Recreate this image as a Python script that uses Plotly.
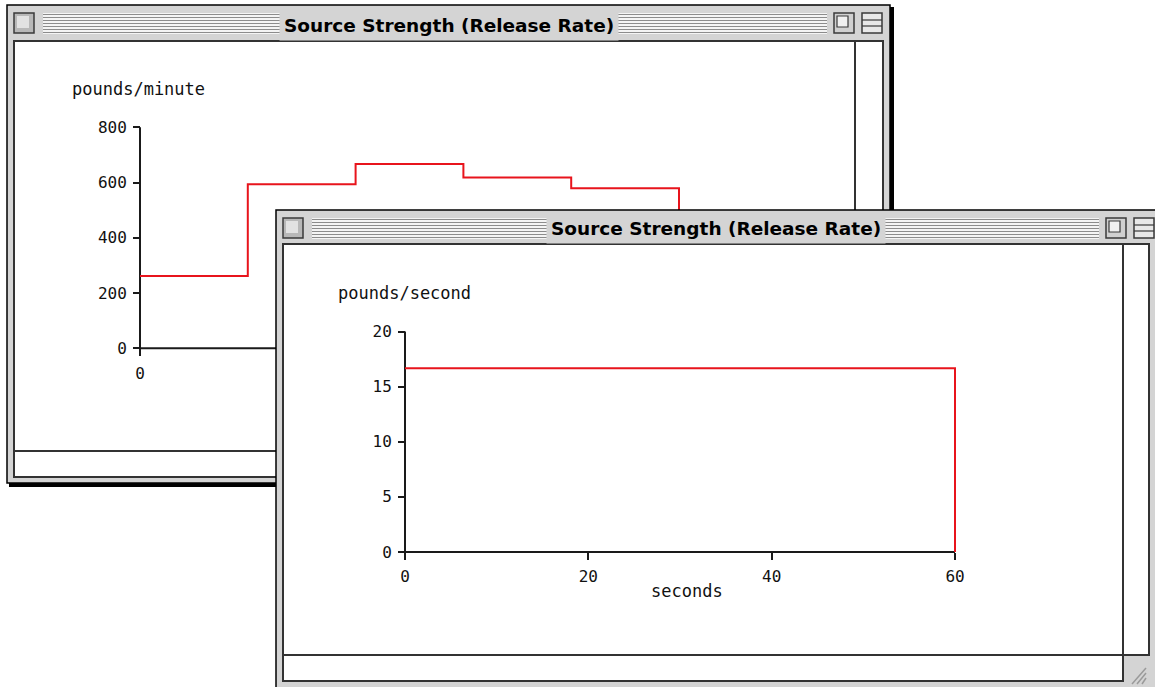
import plotly.graph_objects as go

W, H = 1155, 687

# ---------------- data ----------------
back_time = [0, 1, 2, 3, 4, 5]                 # step boundaries
back_rate = [262, 594, 667, 618, 579, 0]       # pounds/minute
back_yticks = [0, 200, 400, 600, 800]
back_xticks = [0, 2, 4, 6]

front_time = [0, 60]                           # seconds
front_rate = [16.67, 0]                        # pounds/second
front_yticks = [0, 5, 10, 15, 20]
front_xticks = [0, 20, 40, 60]

window_title = "Source Strength (Release Rate)"
back_ylabel = "pounds/minute"
front_ylabel = "pounds/second"
front_xlabel = "seconds"

RED = "#e8141c"
AX = "#1a1a1a"
GRAY = "#d4d4d4"
MONO = "DejaVu Sans Mono"


def fx(x):
    return x / W


def fy(y):
    return 1 - y / H


shapes = []


def rect(x0, y0, x1, y1, fill=None, line=None, lw=0, layer="below"):
    d = dict(type="rect", xref="paper", yref="paper",
             x0=fx(x0), x1=fx(x1), y0=fy(y1), y1=fy(y0), layer=layer,
             line=dict(width=lw, color=line or "rgba(0,0,0,0)"))
    d["fillcolor"] = fill if fill else "rgba(0,0,0,0)"
    shapes.append(d)


def seg(x0, y0, x1, y1, color, lw, layer):
    shapes.append(dict(type="line", xref="paper", yref="paper",
                       x0=fx(x0), x1=fx(x1), y0=fy(y0), y1=fy(y1),
                       layer=layer, line=dict(color=color, width=lw)))


def window(L, T, R, B, cL, cT, cR, cB, vscroll, hscroll, layer, shadow):
    if shadow:
        rect(R, T + 2, R + 4, B + 4, fill="#000", layer=layer)
        rect(L + 2, B, R + 4, B + 4, fill="#000", layer=layer)
    # gray frame strips
    rect(L, T, R, cT, fill=GRAY, layer=layer)
    rect(L, cT, cL, cB, fill=GRAY, layer=layer)
    rect(cR, cT, R, cB, fill=GRAY, layer=layer)
    rect(L, cB, R, B, fill=GRAY, layer=layer)
    # outer border
    rect(L, T, R, B, line="#000", lw=1.5, layer=layer)
    # content border
    rect(cL, cT, cR, cB, line="#333", lw=2, layer=layer)
    # scroll lines
    seg(vscroll, cT, vscroll, cB, "#333", 2, layer)
    seg(cL, hscroll, cR, hscroll, "#333", 2, layer)
    # title bar stripes
    bx1 = R - 56
    sx0, sx1 = L + 36, bx1 - 7
    rect(sx0, T + 8, sx1, T + 29, fill="#f4f4f4", layer=layer)
    for i in range(7):
        yy = T + 9.5 + 3 * i
        seg(sx0, yy, sx1, yy, "#8c8c8c", 1.2, layer)
    # close box
    rect(L + 7, T + 8, L + 27, T + 28, fill="#b8b8b8", line="#3a3a3a", lw=1.5, layer=layer)
    rect(L + 10, T + 11, L + 22, T + 23, fill="#e2e2e2", layer=layer)
    # zoom box
    rect(bx1, T + 8, bx1 + 20, T + 28, fill="#d0d0d0", line="#3a3a3a", lw=1.5, layer=layer)
    rect(bx1 + 3, T + 11, bx1 + 14, T + 22, fill="#f0f0f0", line="#3a3a3a", lw=1.2, layer=layer)
    # collapse box
    bx2 = R - 28
    rect(bx2, T + 8, bx2 + 20, T + 28, fill="#e8e8e8", line="#3a3a3a", lw=1.5, layer=layer)
    seg(bx2, T + 15, bx2 + 20, T + 15, "#3a3a3a", 1.2, layer)
    seg(bx2, T + 21, bx2 + 20, T + 21, "#3a3a3a", 1.2, layer)


# back window (below everything of the front subplot)
window(7, 5, 890, 483, 14, 41, 883, 477, 855, 451, "below", True)
# front window (chrome above)
window(276, 210, 1162, 702, 283, 244, 1149, 681, 1123, 655, "above", False)
# grow box corner of front window
rect(1124, 656, 1162, 702, fill=GRAY, layer="above")
for k in range(3):
    seg(1132 + 5 * k, 684, 1146, 668 + 5 * k, "#9a9a9a", 1.5, "above")

# ---------------- axis geometry (pixel calibration) ----------------
bx0, bxk = 140.0, 107.8
by0, byk = 348.3, (348.3 - 127.3) / 800
fx0, fxk = 405.0, (955 - 405) / 60
fy0, fyk = 552.0, (552 - 331.5) / 20

fig = go.Figure()

fig.add_trace(go.Scatter(x=back_time, y=back_rate, mode="lines", line_shape="hv",
                         line=dict(color=RED, width=2), xaxis="x", yaxis="y",
                         hoverinfo="skip", showlegend=False))
fig.add_trace(go.Scatter(x=front_time, y=front_rate, mode="lines", line_shape="hv",
                         line=dict(color=RED, width=2), xaxis="x2", yaxis="y2",
                         hoverinfo="skip", showlegend=False))

# axis lines as shapes (only over the tick span)
shapes.append(dict(type="line", xref="x", yref="y", x0=back_xticks[0], x1=back_xticks[-1],
                   y0=0, y1=0, layer="between", line=dict(color=AX, width=2)))
shapes.append(dict(type="line", xref="x", yref="y", x0=0, x1=0,
                   y0=back_yticks[0], y1=back_yticks[-1], layer="between", line=dict(color=AX, width=2)))
shapes.append(dict(type="line", xref="x2", yref="y2", x0=front_xticks[0], x1=front_xticks[-1],
                   y0=0, y1=0, layer="between", line=dict(color=AX, width=2)))
shapes.append(dict(type="line", xref="x2", yref="y2", x0=0, x1=0,
                   y0=front_yticks[0], y1=front_yticks[-1], layer="between", line=dict(color=AX, width=2)))

tickfont = dict(family=MONO, size=16, color="#111")
common = dict(showgrid=False, zeroline=False, showline=False, ticks="outside",
              ticklen=7, tickwidth=2, tickcolor=AX, tickfont=tickfont,
              fixedrange=True, anchor="free", ticklabelstandoff=3)

fig.update_layout(
    width=W, height=H, template="none",
    margin=dict(l=0, r=0, t=0, b=0),
    paper_bgcolor="white", plot_bgcolor="white",
    showlegend=False,
    xaxis=dict(domain=[fx(15), fx(855)], range=[(15 - bx0) / bxk, (855 - bx0) / bxk],
               tickvals=back_xticks, position=fy(by0), **common),
    yaxis=dict(domain=[fy(451), fy(42)], range=[(by0 - 451) / byk, (by0 - 42) / byk],
               tickvals=back_yticks, position=fx(bx0), **common),
    xaxis2=dict(domain=[fx(276), 1], range=[(276 - fx0) / fxk, (W - fx0) / fxk],
                tickvals=front_xticks, position=fy(fy0), **common),
    yaxis2=dict(domain=[0, fy(210)], range=[(fy0 - H) / fyk, (fy0 - 210) / fyk],
                tickvals=front_yticks, position=fx(fx0), **common),
    shapes=shapes,
)

ann_font = dict(family=MONO, size=17, color="#111")
title_font = dict(family="DejaVu Sans", size=18.5, color="#000")
for cx, cy in [(448.5, 25), (716, 229)]:
    fig.add_annotation(x=fx(cx), y=fy(cy), xref="paper", yref="paper",
                       xanchor="center", yanchor="middle",
                       text="<b>" + window_title + "</b>", showarrow=False,
                       font=title_font, bgcolor=GRAY, borderpad=4)
fig.add_annotation(x=fx(70), y=fy(89), xref="paper", yref="paper", xanchor="left",
                   yanchor="middle", text=back_ylabel, showarrow=False, font=ann_font)
fig.add_annotation(x=fx(336), y=fy(293), xref="paper", yref="paper", xanchor="left",
                   yanchor="middle", text=front_ylabel, showarrow=False, font=ann_font)
fig.add_annotation(x=fx(687), y=fy(591), xref="paper", yref="paper", xanchor="center",
                   yanchor="middle", text=front_xlabel, showarrow=False, font=ann_font)

fig.write_html("out.html", config={"displayModeBar": False},
               post_script="document.body.style.margin='0';document.body.style.overflow='hidden';")
